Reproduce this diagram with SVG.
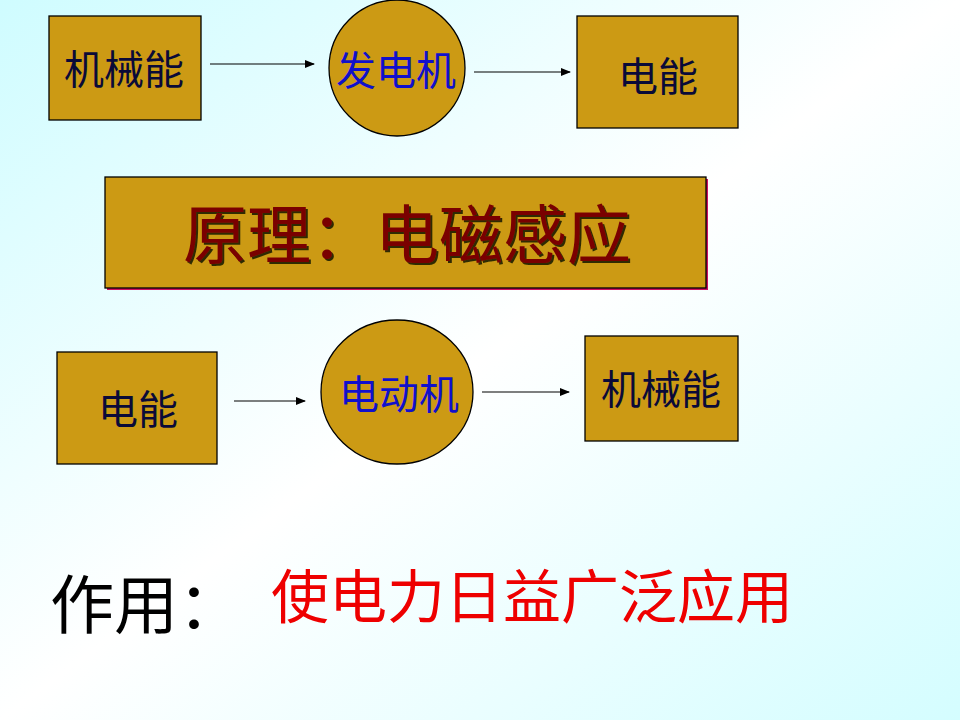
<svg xmlns="http://www.w3.org/2000/svg" width="960" height="720" viewBox="0 0 960 720">
<defs>
<linearGradient id="bg" x1="0" y1="0" x2="1" y2="1">
<stop offset="0" stop-color="#cffcff"/>
<stop offset="0.5" stop-color="#ffffff"/>
<stop offset="1" stop-color="#d4fdff"/>
</linearGradient>
<marker id="ah" markerWidth="10" markerHeight="8" refX="9" refY="4" orient="auto" markerUnits="userSpaceOnUse">
<path d="M0,0 L10,4 L0,8 z" fill="#000"/>
</marker>
<filter id="ts" x="-5%" y="-10%" width="110%" height="130%">
<feDropShadow dx="2" dy="2" stdDeviation="0.6" flood-color="#1a1a00" flood-opacity="0.9"/>
</filter>
</defs>
<style>
.box{fill:#cc9a14;stroke:#000;stroke-width:1.3}
.lbl{font-family:"Noto Sans CJK SC","Noto Sans CJK TC",sans-serif;font-size:40px;fill:#0a0a38;text-anchor:middle}
.blue{fill:#1010cc}
.conn{stroke:#000;stroke-width:1.2;fill:none;marker-end:url(#ah)}
.big{font-family:"Noto Sans CJK SC","Noto Sans CJK TC",sans-serif}
</style>
<rect x="0" y="0" width="960" height="720" fill="url(#bg)"/>

<g id="connectors">
<line class="conn" x1="210" y1="64" x2="314" y2="64"/>
<line class="conn" x1="474" y1="72" x2="570" y2="72"/>
<line class="conn" x1="234" y1="401" x2="305" y2="401"/>
<line class="conn" x1="482" y1="392" x2="569" y2="392"/>
</g>

<g id="mech1">
<rect class="box" x="49" y="16" width="152" height="104"/>
<text class="lbl" x="124" y="84">机械能</text>
</g>
<g id="generator">
<circle class="box" cx="397" cy="68" r="68"/>
<text class="lbl blue" x="396" y="85">发电机</text>
</g>
<g id="elec1">
<rect class="box" x="577" y="16" width="161" height="112"/>
<text class="lbl" x="658" y="91">电能</text>
</g>

<g id="principle">
<rect x="107" y="179" width="601" height="111" fill="#cc1060"/>
<rect class="box" x="105" y="177" width="601" height="111"/>
<text class="big" x="407" y="258" font-size="64" fill="#7a0000" text-anchor="middle" filter="url(#ts)">原理：电磁感应</text>
</g>

<g id="elec2">
<rect class="box" x="57" y="352" width="160" height="112"/>
<text class="lbl" x="138" y="424">电能</text>
</g>
<g id="motor">
<ellipse class="box" cx="397" cy="392" rx="76" ry="72"/>
<text class="lbl blue" x="399" y="409">电动机</text>
</g>
<g id="mech2">
<rect class="box" x="585" y="336" width="153" height="105"/>
<text class="lbl" x="661" y="404">机械能</text>
</g>

<g id="usage">
<text class="big" x="50" y="628" font-size="64" fill="#000">作用：</text>
<text class="big" x="271" y="618" font-size="58" fill="#ee0000">使电力日益广泛应用</text>
</g>
</svg>
